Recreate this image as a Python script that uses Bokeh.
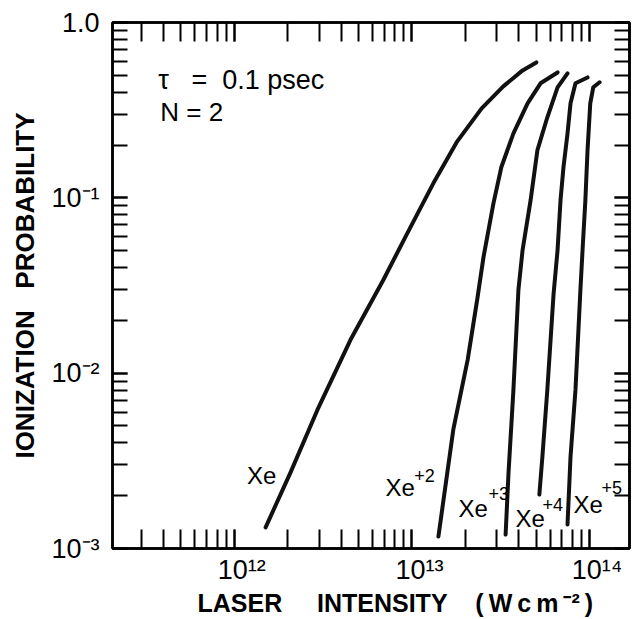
from bokeh.plotting import figure
from bokeh.models import LogAxis, LogTicker, Label, ColumnDataSource
from bokeh.embed import file_html
from bokeh.resources import INLINE
from bokeh.core.properties import value

# ---------------- data ----------------
xe_I = [1.50e12, 2.07e12, 2.94e12, 4.51e12, 6.90e12, 9.18e12, 1.32e13, 1.80e13, 2.47e13, 3.27e13, 4.20e13, 5.02e13]
xe_P = [1.32e-3, 2.71e-3, 6.19e-3, 1.55e-2, 3.40e-2, 5.97e-2, 0.121, 0.210, 0.324, 0.432, 0.533, 0.592]

xe2_I = [1.41e13, 1.71e13, 2.06e13, 2.34e13, 2.53e13, 2.88e13, 3.19e13, 3.73e13, 4.48e13, 5.30e13, 6.61e13]
xe2_P = [1.17e-3, 4.76e-3, 1.19e-2, 2.69e-2, 4.59e-2, 9.33e-2, 0.150, 0.233, 0.346, 0.450, 0.519]

xe3_I = [3.37e13, 3.50e13, 3.73e13, 3.98e13, 4.20e13, 4.66e13, 5.09e13, 5.79e13, 6.61e13, 7.52e13]
xe3_P = [1.20e-3, 2.71e-3, 8.05e-3, 2.99e-2, 5.04e-2, 9.70e-2, 0.187, 0.288, 0.427, 0.513]

xe4_I = [5.22e13, 5.43e13, 5.79e13, 6.27e13, 6.61e13, 6.87e13, 7.14e13, 7.52e13, 7.82e13, 8.34e13, 9.75e13]
xe4_P = [2.03e-3, 3.34e-3, 8.05e-3, 2.79e-2, 5.04e-2, 9.70e-2, 0.150, 0.233, 0.346, 0.450, 0.486]

xe5_I = [7.52e13, 7.82e13, 8.34e13, 8.89e13, 9.14e13, 9.48e13, 9.75e13, 1.01e14, 1.05e14, 1.14e14]
xe5_P = [1.37e-3, 3.34e-3, 8.05e-3, 2.99e-2, 5.04e-2, 9.70e-2, 0.187, 0.346, 0.427, 0.456]

series = [(xe_I, xe_P), (xe2_I, xe2_P), (xe3_I, xe3_P), (xe4_I, xe4_P), (xe5_I, xe5_P)]

# curve labels: base text and superscript charge
label_base = ["Xe", "Xe", "Xe", "Xe", "Xe"]
label_sup = ["", "+2", "+3", "+4", "+5"]
# label anchor positions (annotation placement)
base_x = [1.18e12, 7.10e12, 1.83e13, 3.83e13, 8.13e13]
base_y = [2.60e-3, 2.22e-3, 1.70e-3, 1.48e-3, 1.79e-3]
sup_x = [1.18e12, 1.03e13, 2.70e13, 5.43e13, 1.17e14]
sup_y = [2.60e-3, 2.60e-3, 2.05e-3, 1.79e-3, 2.22e-3]

NB = "\u00a0"
TH = "\u2009"
x_tick_labels = {1e12: NB * 2 + "10\u00b9\u00b2", 1e13: NB * 2 + "10\u00b9\u00b3", 1e14: NB * 2 + "10\u00b9\u2074"}
y_tick_labels = {1e-3: "10\u207b\u00b3", 1e-2: "10\u207b\u00b2", 1e-1: "10\u207b\u00b9", 1.0: "1.0"}

FONT = "Liberation Sans"

p = figure(width=632, height=619, x_axis_type="log", y_axis_type="log",
           x_range=(2.06e11, 1.68e14), y_range=(1e-3, 1.0),
           output_backend="svg", toolbar_location=None,
           min_border_left=112, min_border_right=3, min_border_top=22, min_border_bottom=70,
           background_fill_color="white", border_fill_color="white")

p.xgrid.visible = False
p.ygrid.visible = False
p.outline_line_color = "black"
p.outline_line_width = 2.5

def style_axis(ax, tick_len):
    ax.axis_line_color = "black"
    ax.axis_line_width = 2.5
    ax.major_tick_in = tick_len
    ax.major_tick_out = 0
    ax.minor_tick_in = tick_len
    ax.minor_tick_out = 0
    ax.major_tick_line_width = 2
    ax.minor_tick_line_width = 2
    ax.major_tick_line_color = "black"
    ax.minor_tick_line_color = "black"

def hide_labels(ax):
    ax.major_label_text_font_size = "1px"
    ax.major_label_text_alpha = 0
    ax.major_label_standoff = 0

xa = p.xaxis[0]
style_axis(xa, 19)
xa.ticker = LogTicker(num_minor_ticks=10)
xa.major_label_overrides = x_tick_labels
xa.major_label_text_font = FONT
xa.major_label_text_font_size = "27px"
xa.major_label_text_color = "black"
xa.major_label_standoff = 6
xa.axis_label = (NB * 7 + "LASER" + NB * 5 + "INTENSITY" + NB * 4
                 + "(" + TH + "W" + TH + "c" + TH + "m" + TH + "\u207b\u00b2" + TH + ")")
xa.axis_label_text_font = FONT
xa.axis_label_text_font_style = "bold"
xa.axis_label_text_font_size = "25px"
xa.axis_label_text_color = "black"
xa.axis_label_standoff = 1

ya = p.yaxis[0]
style_axis(ya, 15)
ya.ticker = LogTicker(num_minor_ticks=10)
ya.major_label_overrides = y_tick_labels
ya.major_label_text_font = FONT
ya.major_label_text_font_size = "27px"
ya.major_label_text_color = "black"
ya.major_label_standoff = 13
ya.axis_label = "IONIZATION" + NB * 3 + "PROBABILITY"
ya.axis_label_text_font = FONT
ya.axis_label_text_font_style = "bold"
ya.axis_label_text_font_size = "26px"
ya.axis_label_text_color = "black"
ya.axis_label_standoff = 8

top = LogAxis(ticker=LogTicker(num_minor_ticks=10))
style_axis(top, 19)
hide_labels(top)
p.add_layout(top, "above")
right = LogAxis(ticker=LogTicker(num_minor_ticks=10))
style_axis(right, 15)
hide_labels(right)
p.add_layout(right, "right")

for I, P in series:
    p.line(I, P, line_color="#111111", line_width=4, line_cap="round", line_join="round")

src_b = ColumnDataSource(dict(x=base_x, y=base_y, t=label_base))
p.text(x="x", y="y", text="t", source=src_b, text_font=value(FONT),
       text_font_size="24px", text_color="black", text_baseline="alphabetic", text_align="left")
src_s = ColumnDataSource(dict(x=sup_x, y=sup_y, t=label_sup))
p.text(x="x", y="y", text="t", source=src_s, text_font=value(FONT),
       text_font_size="18px", text_color="black", text_baseline="alphabetic", text_align="left")

p.add_layout(Label(x=3.73e11, y=0.47, text="\u03c4" + NB * 3 + "=" + NB * 2 + "0.1 psec",
                   text_font=FONT, text_font_size="27px", text_color="black",
                   text_baseline="alphabetic"))
p.add_layout(Label(x=3.83e11, y=0.31, text="N" + NB + "=" + NB + "2",
                   text_font=FONT, text_font_size="26px", text_color="black",
                   text_baseline="alphabetic"))

open("out.html", "w").write(file_html(p, INLINE))
